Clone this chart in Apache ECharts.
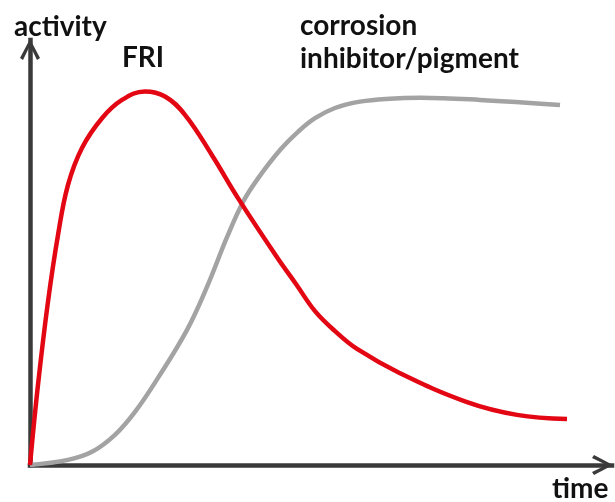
<!DOCTYPE html>
<html>
<head>
<meta charset="utf-8">
<script src="https://cdn.jsdelivr.net/npm/echarts@6/dist/echarts.min.js"></script>
<style>
  html, body { margin: 0; padding: 0; background: #fff; }
  #chart { width: 615px; height: 502px; }
</style>
</head>
<body>
<div id="chart"></div>
<script>
// time (0-100) / activity (0-100)
const friTime = [0, 1.37, 3.09, 4.81, 6.53, 8.93, 12.37, 15.81, 19.76, 23.2, 26.63, 31.27, 35.74, 42.44, 45.7, 48.97, 52.41, 56.19, 63.57, 75.09, 83.68, 92.27]
const friActivity = [0, 18.8, 38.4, 54.1, 65.9, 74.6, 81.6, 85.9, 87.9, 86.7, 82.4, 72.9, 62.8, 48.9, 42.6, 36.2, 31.5, 27.3, 21.6, 14.8, 11.8, 10.8]

const inhTime = [0, 6.53, 10.65, 14.6, 18.04, 21.99, 26.98, 30.41, 33.85, 36.6, 39.0, 42.96, 46.05, 48.97, 52.41, 56.7, 61.86, 67.01, 77.32, 91.07]
const inhActivity = [0, 1.2, 3.1, 7.1, 12.5, 20.5, 31.8, 41.9, 53.6, 61.9, 67.1, 74.1, 78.4, 81.6, 84.0, 85.5, 86.2, 86.4, 85.9, 84.7]

const axisColor = '#3a3a3a'
const font = '700 28px Lato'
// open chevron arrow head, pointing "up" in its own box
const chevron = 'path://M10,0 L20,19 L17,21 L10,6.5 L3,21 L0,19 Z'

const toPairs = (xs, ys) => xs.map((x, i) => [x, ys[i]])

const axisBase = {
  type: 'value',
  min: 0,
  max: 100,
  axisLine: {
    show: true,
    symbol: ['none', chevron],
    symbolSize: [20, 21],
    symbolOffset: [0, -9.5],
    lineStyle: { color: axisColor, width: 4.5, cap: 'square' },
  },
  axisTick: { show: false },
  axisLabel: { show: false },
  splitLine: { show: false },
}

const chart = echarts.init(document.getElementById('chart'))
chart.setOption({
  animation: false,
  grid: { left: 30, right: 3, top: 40, bottom: 37 },
  xAxis: { ...axisBase },
  yAxis: { ...axisBase },
  series: [
    {
      name: 'corrosion inhibitor/pigment',
      type: 'line',
      data: toPairs(inhTime, inhActivity),
      smooth: 0.4,
      showSymbol: false,
      lineStyle: { color: '#a3a3a3', width: 4.5 },
    },
    {
      name: 'FRI',
      type: 'line',
      data: toPairs(friTime, friActivity),
      smooth: 0.4,
      showSymbol: false,
      lineStyle: { color: '#e30613', width: 4.5 },
    },
  ],
  graphic: [
    { type: 'text', left: 14, top: 13, style: { text: 'activity', font, fill: '#111' } },
    { type: 'text', left: 122, top: 44, style: { text: 'FRI', font, fill: '#111' } },
    { type: 'text', left: 300, top: 12, style: { text: 'corrosion', font, fill: '#111' } },
    { type: 'text', left: 300, top: 45, style: { text: 'inhibitor/pigment', font, fill: '#111' } },
    { type: 'text', left: 552, top: 475, style: { text: 'time', font, fill: '#111' } },
  ],
})
</script>
</body>
</html>
